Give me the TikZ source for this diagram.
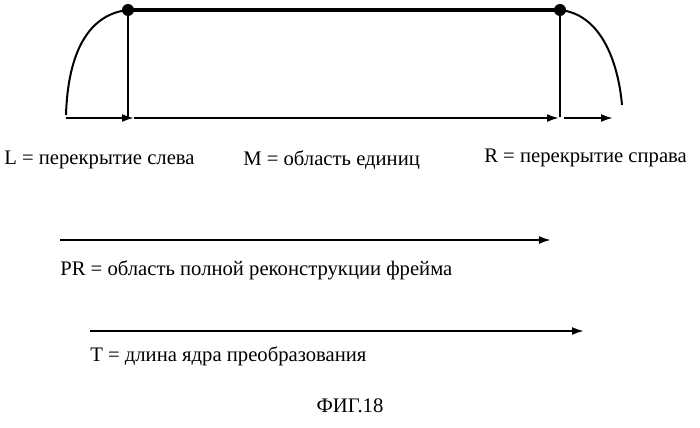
\documentclass[tikz,border=0pt]{standalone}
\usepackage{fontspec}
\setmainfont{Liberation Serif}
\usetikzlibrary{arrows.meta,positioning}
\tikzset{axis/.style={line width=1.5pt,-{Latex[length=9pt,width=6pt]}},
         lbl/.style={font=\fontsize{15.5}{18}\selectfont,inner sep=0pt}}
\begin{document}
\begin{tikzpicture}[x=0.75pt,y=-0.75pt]
\useasboundingbox (0,0) rectangle (700,428);
% frame edges
\coordinate (ls) at (66,115);
\coordinate (lt) at (128,10);
\coordinate (rt) at (560,10);
\coordinate (rs) at (622,105);
\coordinate (lb) at (128,117);
\coordinate (rb) at (560,117);
\draw[line width=1.5pt] (ls) .. controls (68,50) and (90,14) .. (lt);
\draw[line width=1.5pt] (rt) .. controls (600,14) and (618,60) .. (rs);
\draw[line width=3.5pt] (lt) -- (rt);
\fill (lt) circle (6);
\fill (rt) circle (6);
\draw[line width=1.2pt] (lt) -- (lb);
\draw[line width=1.2pt] (rt) -- (rb);
% overlaps
\coordinate (a0) at (66,118);
\coordinate (a1) at (134,118);
\coordinate (a2) at (559,118);
\coordinate (a3) at (564,118);
\coordinate (a4) at (613,118);
\draw[axis] (a0) -- (a1);
\draw[axis] (a1) -- (a2);
\draw[axis] (a3) -- (a4);
\node[lbl,anchor=west] (L) at (4,160) {L = перекрытие слева};
\node[lbl,anchor=west] (M) at (243,160) {M = область единиц};
\node[lbl,anchor=west] (R) at (484,158) {R = перекрытие справа};
% reconstruction
\coordinate (p0) at (60,240);
\coordinate (p1) at (551,240);
\draw[axis] (p0) -- (p1);
\node[lbl,anchor=west] (PR) at (60,270) {PR = область полной реконструкции фрейма};
\coordinate (t0) at (90,331);
\coordinate (t1) at (584,331);
\draw[axis] (t0) -- (t1);
\node[lbl,anchor=west] (T) at (90,356) {T = длина ядра преобразования};
\node[lbl] (fig) at (350,406) {ФИГ.18};
\end{tikzpicture}
\end{document}
